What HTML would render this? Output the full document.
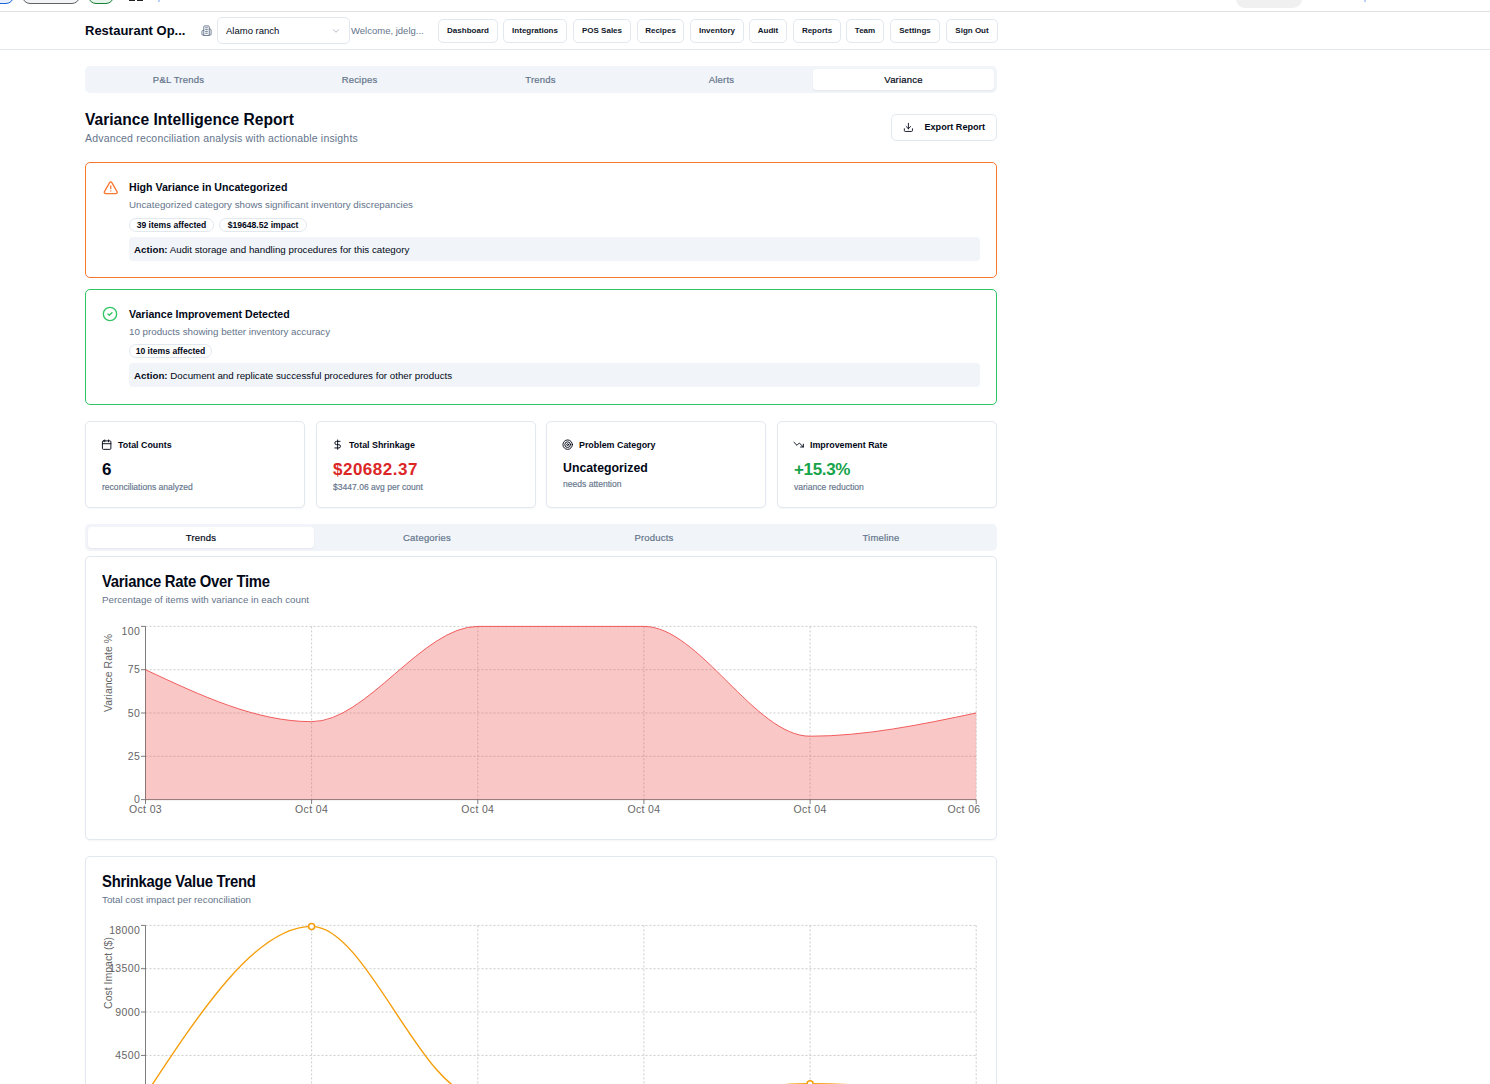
<!DOCTYPE html>
<html><head><meta charset="utf-8">
<style>
*{box-sizing:border-box;margin:0;padding:0}
html,body{width:1490px;height:1084px;overflow:hidden;background:#fff}
body{font-family:"Liberation Sans",sans-serif;color:#020817;position:relative}
.abs{position:absolute}
.topline{left:0;top:11px;width:1490px;height:1px;background:#dfe1e0}
.hdrline{left:0;top:49px;width:1490px;height:1px;background:#e2e8f0}
.title{left:85px;top:23px;font-size:13px;font-weight:bold;white-space:nowrap}
.sel{left:217px;top:17px;width:133px;height:27px;border:1px solid #e2e8f0;border-radius:5px}
.sel span{position:absolute;left:8px;top:6.7px;font-size:9.5px;white-space:nowrap}
.welcome{left:351px;top:24.8px;font-size:9.5px;color:#64748b;white-space:nowrap}
.nav{top:19px;height:24px;border:1px solid #e2e8f0;border-radius:5px;font-size:8px;font-weight:bold;text-align:center;line-height:21px;white-space:nowrap;color:#0f172a}
.tabs{left:85px;top:66px;width:912px;height:27px;background:#f1f5f9;border-radius:5px}
.tab{top:0;height:27px;line-height:27px;font-size:9.5px;color:#64748b;text-align:center;width:181px;-webkit-text-stroke:0.2px currentColor;letter-spacing:0.2px}
.tab.active{top:3px;height:21px;line-height:21px;background:#fff;color:#020817;border-radius:4px;box-shadow:0 1px 2px rgba(0,0,0,.06)}
.h1{left:85px;top:111px;font-size:15.6px;font-weight:bold;white-space:nowrap}
.sub{left:85px;top:132px;letter-spacing:0.18px;font-size:10.5px;color:#64748b;white-space:nowrap}
.export{left:891px;top:114px;width:106px;height:27px;border:1px solid #e2e8f0;border-radius:5px}
.export span{position:absolute;left:32.5px;top:7.2px;font-size:9.1px;font-weight:bold;white-space:nowrap}
.card{border:1px solid #e2e8f0;border-radius:5px;background:#fff;box-shadow:0 1px 2px rgba(0,0,0,.04)}
.alert1{left:85px;top:162px;width:912px;height:116px;border:1px solid #f7772e;border-radius:5px}
.alert2{left:85px;top:289px;width:912px;height:116px;border:1px solid #30c563;border-radius:5px}
.at{font-size:10.6px;font-weight:bold;white-space:nowrap}
.ad{font-size:9.75px;color:#64748b;white-space:nowrap}
.badge{height:14px;border:1px solid #e2e8f0;border-radius:8px;font-size:8.6px;font-weight:bold;line-height:12px;text-align:center;white-space:nowrap}
.action{left:43px;height:24px;width:851px;background:#f1f5f9;border-radius:4px;font-size:9.75px;white-space:nowrap;padding-left:5px;line-height:25px}
.stat{top:421px;height:87px;width:220px}
.sl{left:32px;top:17.8px;font-size:8.9px;font-weight:bold;white-space:nowrap}
.sv{left:16px;top:38px;font-size:17px;font-weight:bold;white-space:nowrap}
.ss{left:16px;top:60px;font-size:8.55px;color:#64748b;white-space:nowrap;-webkit-text-stroke:0.15px currentColor}
.stabs{left:85px;top:524px;width:912px;height:27px;background:#f1f5f9;border-radius:5px}
.stab{top:0;height:27px;line-height:27px;font-size:9.5px;color:#64748b;text-align:center;width:226px;-webkit-text-stroke:0.2px currentColor;letter-spacing:0.2px}
.stab.active{top:3px;height:21px;line-height:21px;background:#fff;color:#020817;border-radius:4px;box-shadow:0 1px 2px rgba(0,0,0,.06)}
.chartcard{left:85px;width:912px}
.ct{left:16px;font-size:16.5px;font-weight:bold;white-space:nowrap;letter-spacing:-0.3px;transform:scaleX(0.9);transform-origin:0 0}
.cs{left:16px;font-size:9.75px;color:#64748b;white-space:nowrap}
</style></head><body>

<!-- top cropped strip -->
<div class="abs" style="left:-20px;top:-12px;width:34px;height:16px;border:1px solid #1a66d9;border-radius:8px;background:#e8effc"></div>
<div class="abs" style="left:22px;top:-12px;width:58px;height:16px;border:1.5px solid #5f6368;border-radius:8px;background:#f1f3f4"></div>
<div class="abs" style="left:88px;top:-12px;width:26px;height:16px;border:1.5px solid #188038;border-radius:8px;background:#e6f4ea"></div>
<div class="abs" style="left:129px;top:0;width:6px;height:1px;background:#222"></div>
<div class="abs" style="left:137px;top:0;width:6px;height:1px;background:#222"></div>
<div class="abs" style="left:1236px;top:-10px;width:66px;height:18px;border-radius:9px;background:#f0f0f0"></div>
<div class="abs" style="left:158px;top:0;width:2px;height:2px;background:#b9cff7"></div>
<div class="abs" style="left:1364px;top:0;width:2px;height:2px;background:#b9cff7"></div>
<div class="abs topline"></div>

<!-- header -->
<div class="abs title">Restaurant Op...</div>
<svg class="abs" style="left:200.6px;top:24.5px" width="11" height="11" viewBox="0 0 24 24" fill="none" stroke-width="2" stroke-linecap="round" stroke-linejoin="round" stroke="#64748b"><path d="M6 22V4a2 2 0 0 1 2-2h8a2 2 0 0 1 2 2v18Z"/><path d="M6 12H4a2 2 0 0 0-2 2v6a2 2 0 0 0 2 2h2"/><path d="M18 9h2a2 2 0 0 1 2 2v9a2 2 0 0 1-2 2h-2"/><path d="M10 6h4M10 10h4M10 14h4M10 18h4"/></svg>
<div class="abs sel"><span>Alamo ranch</span>
 <svg class="abs" style="left:113.1px;top:7.5px" width="10" height="10" viewBox="0 0 24 24" fill="none" stroke-width="2" stroke-linecap="round" stroke-linejoin="round" stroke="#64748b" stroke-opacity="0.6"><path d="m6 9 6 6 6-6"/></svg>
</div>
<div class="abs welcome">Welcome, jdelg...</div>
<div class="abs nav" style="left:438px;width:60px">Dashboard</div>
<div class="abs nav" style="left:503px;width:64px">Integrations</div>
<div class="abs nav" style="left:573px;width:58px">POS Sales</div>
<div class="abs nav" style="left:637px;width:47px">Recipes</div>
<div class="abs nav" style="left:690px;width:54px">Inventory</div>
<div class="abs nav" style="left:749px;width:38px">Audit</div>
<div class="abs nav" style="left:793px;width:48px">Reports</div>
<div class="abs nav" style="left:846px;width:38px">Team</div>
<div class="abs nav" style="left:890px;width:50px">Settings</div>
<div class="abs nav" style="left:946px;width:52px">Sign Out</div>
<div class="abs hdrline"></div>

<!-- main tabs -->
<div class="abs tabs">
 <div class="abs tab" style="left:3px">P&amp;L Trends</div>
 <div class="abs tab" style="left:184px">Recipes</div>
 <div class="abs tab" style="left:365px">Trends</div>
 <div class="abs tab" style="left:546px">Alerts</div>
 <div class="abs tab active" style="left:728px">Variance</div>
</div>

<div class="abs h1">Variance Intelligence Report</div>
<div class="abs sub">Advanced reconciliation analysis with actionable insights</div>
<div class="abs export">
 <svg class="abs" style="left:11.1px;top:7.1px" width="10.8" height="10.8" viewBox="0 0 24 24" fill="none" stroke-width="2" stroke-linecap="round" stroke-linejoin="round" stroke="#020817"><path d="M21 15v4a2 2 0 0 1-2 2H5a2 2 0 0 1-2-2v-4"/><path d="M7 10l5 5 5-5"/><path d="M12 15V3"/></svg>
 <span>Export Report</span>
</div>

<!-- alert 1 -->
<div class="abs alert1">
 <svg class="abs" style="left:16.5px;top:16.6px" width="15.5" height="15.5" viewBox="0 0 24 24" fill="none" stroke-width="2" stroke-linecap="round" stroke-linejoin="round" stroke="#f7772e"><path d="m21.73 18-8-14a2 2 0 0 0-3.48 0l-8 14A2 2 0 0 0 4 21h16a2 2 0 0 0 1.73-3Z"/><path d="M12 9v4"/><path d="M12 17h.01"/></svg>
 <div class="abs at" style="left:43px;top:18.3px">High Variance in Uncategorized</div>
 <div class="abs ad" style="left:43px;top:36.4px">Uncategorized category shows significant inventory discrepancies</div>
 <div class="abs badge" style="left:43px;top:54.5px;width:85px">39 items affected</div>
 <div class="abs badge" style="left:133px;top:54.5px;width:88px">$19648.52 impact</div>
 <div class="abs action" style="top:74px"><b>Action:</b> Audit storage and handling procedures for this category</div>
</div>

<!-- alert 2 -->
<div class="abs alert2">
 <svg class="abs" style="left:15.5px;top:16.4px" width="16" height="16" viewBox="0 0 24 24" fill="none" stroke-width="2" stroke-linecap="round" stroke-linejoin="round" stroke="#30c563"><circle cx="12" cy="12" r="10"/><path d="m9 12 2 2 4-4"/></svg>
 <div class="abs at" style="left:43px;top:17.8px">Variance Improvement Detected</div>
 <div class="abs ad" style="left:43px;top:35.9px">10 products showing better inventory accuracy</div>
 <div class="abs badge" style="left:43px;top:53.5px;width:83px">10 items affected</div>
 <div class="abs action" style="top:73.4px"><b>Action:</b> Document and replicate successful procedures for other products</div>
</div>

<!-- stats -->
<div class="abs card stat" style="left:85px">
 <svg class="abs" style="left:15.3px;top:16.9px" width="11.3" height="11.3" viewBox="0 0 24 24" fill="none" stroke-width="2" stroke-linecap="round" stroke-linejoin="round" stroke="#020817"><rect width="18" height="18" x="3" y="4" rx="2" ry="2"/><path d="M16 2v4M8 2v4M3 10h18"/></svg>
 <div class="abs sl">Total Counts</div>
 <div class="abs sv">6</div>
 <div class="abs ss">reconciliations analyzed</div>
</div>
<div class="abs card stat" style="left:316px">
 <svg class="abs" style="left:15.3px;top:16.9px" width="11.3" height="11.3" viewBox="0 0 24 24" fill="none" stroke-width="2" stroke-linecap="round" stroke-linejoin="round" stroke="#020817"><path d="M12 2v20"/><path d="M17 5H9.5a3.5 3.5 0 0 0 0 7h5a3.5 3.5 0 0 1 0 7H6"/></svg>
 <div class="abs sl">Total Shrinkage</div>
 <div class="abs sv" style="color:#dc2626;letter-spacing:0.5px">$20682.37</div>
 <div class="abs ss">$3447.06 avg per count</div>
</div>
<div class="abs card stat" style="left:546px">
 <svg class="abs" style="left:15.3px;top:16.9px" width="11.3" height="11.3" viewBox="0 0 24 24" fill="none" stroke-width="2" stroke-linecap="round" stroke-linejoin="round" stroke="#020817"><circle cx="12" cy="12" r="10"/><circle cx="12" cy="12" r="6"/><circle cx="12" cy="12" r="2"/></svg>
 <div class="abs sl">Problem Category</div>
 <div class="abs sv" style="top:39px;font-size:12.3px">Uncategorized</div>
 <div class="abs ss" style="top:57px">needs attention</div>
</div>
<div class="abs card stat" style="left:777px">
 <svg class="abs" style="left:15.3px;top:16.9px" width="11.3" height="11.3" viewBox="0 0 24 24" fill="none" stroke-width="2" stroke-linecap="round" stroke-linejoin="round" stroke="#020817"><path d="M22 17 13.5 8.5 8.5 13.5 2 7"/><path d="M16 17h6v-6"/></svg>
 <div class="abs sl">Improvement Rate</div>
 <div class="abs sv" style="color:#16a34a;letter-spacing:-0.35px">+15.3%</div>
 <div class="abs ss">variance reduction</div>
</div>

<!-- sub tabs -->
<div class="abs stabs">
 <div class="abs stab active" style="left:3px">Trends</div>
 <div class="abs stab" style="left:229px">Categories</div>
 <div class="abs stab" style="left:456px">Products</div>
 <div class="abs stab" style="left:683px">Timeline</div>
</div>

<!-- chart cards -->
<div class="abs card chartcard" style="top:556px;height:284px">
 <div class="abs ct" style="top:15px">Variance Rate Over Time</div>
 <div class="abs cs" style="top:37.3px">Percentage of items with variance in each count</div>
</div>
<div class="abs card chartcard" style="top:856px;height:300px">
 <div class="abs ct" style="top:15px">Shrinkage Value Trend</div>
 <div class="abs cs" style="top:37px">Total cost impact per reconciliation</div>
</div>

<svg class="abs" style="left:0;top:0" width="1490" height="1084" viewBox="0 0 1490 1084">
 <g font-family="Liberation Sans, sans-serif" font-size="10.5" fill="#666" letter-spacing="0.35">
 <!-- chart1 grid -->
 <g stroke="#ccc" stroke-dasharray="2 2" fill="none" stroke-width="1">
  <path d="M145.5 626.4H976.2M145.5 669.7H976.2M145.5 713H976.2M145.5 756.3H976.2"/>
  <path d="M311.6 626.4V799.6M477.8 626.4V799.6M643.9 626.4V799.6M810.1 626.4V799.6M976.2 626.4V799.6"/>
 </g>
 <g stroke="#666" fill="none" stroke-width="0.85">
  <path d="M145.5 626.4V799.6M145.5 799.6H976.2"/>
  <path d="M141 626.4H145.5M141 669.7H145.5M141 713H145.5M141 756.3H145.5M141 799.6H145.5"/>
  <path d="M145.5 799.6V804M311.6 799.6V804M477.8 799.6V804M643.9 799.6V804M810.1 799.6V804M976.2 799.6V804"/>
 </g>
 <path fill="#ef4444" fill-opacity="0.3" d="M145.50,669.70C200.88,695.68,256.26,721.66,311.64,721.66C367.02,721.66,422.40,626.40,477.78,626.40C533.16,626.40,588.54,626.40,643.92,626.40C699.30,626.40,754.68,736.21,810.06,736.21C865.44,736.21,920.82,724.60,976.20,713.00L976.20,799.60L145.50,799.60Z"/>
 <path fill="none" stroke="#ef4444" stroke-width="0.85" d="M145.50,669.70C200.88,695.68,256.26,721.66,311.64,721.66C367.02,721.66,422.40,626.40,477.78,626.40C533.16,626.40,588.54,626.40,643.92,626.40C699.30,626.40,754.68,736.21,810.06,736.21C865.44,736.21,920.82,724.60,976.20,713.00"/>
 <g text-anchor="end">
  <text x="140.1" y="635">100</text><text x="140.1" y="673">75</text><text x="140.1" y="716.5">50</text><text x="140.1" y="760">25</text><text x="140.1" y="803">0</text>
 </g>
 <g text-anchor="middle">
  <text x="145.5" y="813">Oct 03</text><text x="311.6" y="813">Oct 04</text><text x="477.8" y="813">Oct 04</text><text x="643.9" y="813">Oct 04</text><text x="810.1" y="813">Oct 04</text><text x="964" y="813">Oct 06</text>
  <text letter-spacing="0" transform="translate(112 673) rotate(-90)">Variance Rate %</text>
 </g>
 <!-- chart2 grid -->
 <g stroke="#ccc" stroke-dasharray="2 2" fill="none" stroke-width="1">
  <path d="M145.5 925.4H976.2M145.5 968.7H976.2M145.5 1012H976.2M145.5 1055.4H976.2"/>
  <path d="M311.6 925.4V1100M477.8 925.4V1100M643.9 925.4V1100M810.1 925.4V1100M976.2 925.4V1100"/>
 </g>
 <path fill="none" stroke="#f59e0b" stroke-width="1.4" d="M145.50,1094.85C200.88,1010.61,256.26,926.36,311.64,926.36C367.02,926.36,422.40,1095.81,477.78,1095.81C533.16,1095.81,588.54,1095.81,643.92,1095.81C699.30,1095.81,754.68,1083.78,810.06,1083.78C865.44,1083.78,920.82,1089.79,976.20,1095.81"/>
 <g fill="#fff" stroke="#f59e0b" stroke-width="1.5"><circle cx="311.6" cy="926.4" r="3"/><circle cx="810.1" cy="1083.8" r="3"/></g>
 <g stroke="#666" fill="none" stroke-width="0.85">
  <path d="M145.5 925.4V1100"/>
  <path d="M141 925.4H145.5M141 968.7H145.5M141 1012H145.5M141 1055.4H145.5"/>
 </g>
 <g text-anchor="end">
  <text x="140.1" y="934">18000</text><text x="140.1" y="972">13500</text><text x="140.1" y="1015.5">9000</text><text x="140.1" y="1059">4500</text>
 </g>
 <g text-anchor="middle">
  <text letter-spacing="0" transform="translate(112.3 973) rotate(-90)">Cost Impact ($)</text>
 </g>
 </g>
</svg>
</body></html>
